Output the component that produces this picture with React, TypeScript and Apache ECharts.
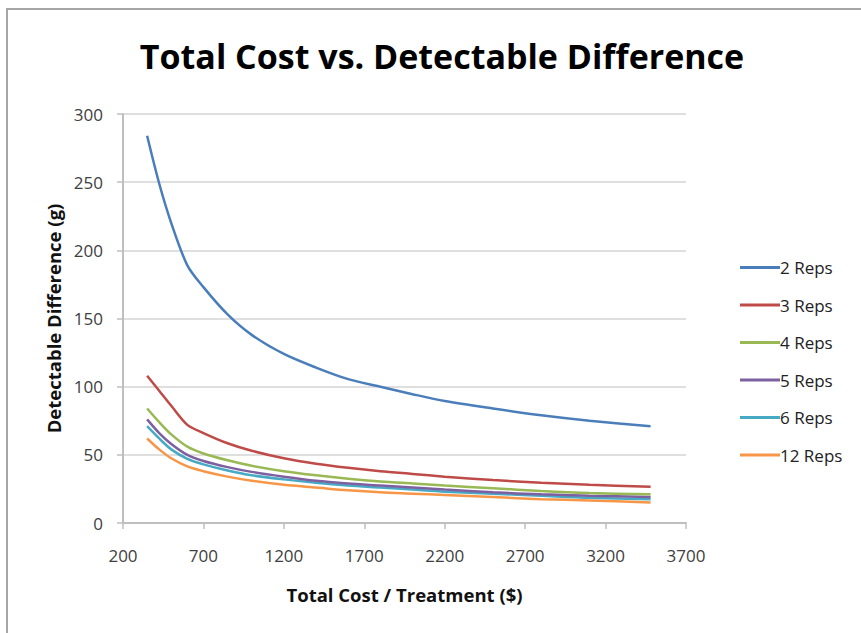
import React, { useEffect, useRef } from "react";
import * as echarts from "echarts";

const costs = [350, 425, 500, 600, 700, 850, 1000, 1200, 1400, 1600, 1800, 2000, 2200, 2500, 2800, 3100, 3480];
const reps2 = [284, 249, 220, 189, 173, 153, 138, 124, 114, 105.5, 100, 94.5, 89.5, 84, 79, 75, 71];
const reps3 = [108, 97, 86, 72, 66, 58.5, 53, 47.5, 43.5, 40.5, 38, 36, 34, 31.5, 29.5, 28, 26.5];
const reps4 = [84, 74, 65, 56, 51, 46, 42, 38, 35, 32.5, 30.5, 29, 27.5, 25.5, 23.5, 22, 21];
const reps5 = [76, 66, 58, 50, 45.5, 41, 37.5, 34, 31, 29, 27.5, 26, 24.5, 22.5, 21, 20, 19];
const reps6 = [71, 62, 54, 47, 43, 38.5, 35, 32, 29.5, 27.5, 26, 24.5, 23, 21.5, 20, 18.5, 17.5];
const reps12 = [62, 54, 47.5, 41.5, 38, 34, 31, 28, 26, 24, 22.5, 21.5, 20.5, 19, 17.5, 16.5, 15];

const seriesNames = ["2 Reps", "3 Reps", "4 Reps", "5 Reps", "6 Reps", "12 Reps"];
const seriesValues = [reps2, reps3, reps4, reps5, reps6, reps12];
const colors = ["#4A7EBB", "#BE4B48", "#98B954", "#7D60A0", "#46AAC5", "#F79646"];

export default function App() {
  const ref = useRef<HTMLDivElement>(null);
  useEffect(() => {
    if (!ref.current) return;
    const chart = echarts.init(ref.current, null, { renderer: "svg" });
    const font = "'Open Sans', 'Noto Sans', sans-serif";
    chart.setOption({
      animation: false,
      backgroundColor: "#ffffff",
      color: colors,
      title: {
        text: "Total Cost vs. Detectable Difference",
        left: 437,
        textAlign: "center",
        top: 34,
        textStyle: { fontFamily: font, fontWeight: "bold", fontSize: 34, color: "#000000" },
      },
      graphic: [
        {
          type: "polyline",
          shape: { points: [[7, 640], [7, 9], [870, 9]] },
          style: { stroke: "#A6A6A6", lineWidth: 2, fill: "none" },
          silent: true,
        },
      ],
      grid: { left: 123, right: 175, top: 114, bottom: 110, containLabel: false },
      legend: {
        orient: "vertical",
        left: 735,
        top: 254,
        itemWidth: 40,
        itemHeight: 3,
        itemGap: 20.5,
        icon: "rect",
        textStyle: { fontFamily: font, fontSize: 17, color: "#222222", padding: [0, 0, 0, -5] },
        data: seriesNames,
      },
      xAxis: {
        type: "value",
        min: 200,
        max: 3700,
        interval: 500,
        name: "Total Cost / Treatment ($)",
        nameLocation: "middle",
        nameGap: 62,
        nameTextStyle: { fontFamily: font, fontWeight: "bold", fontSize: 18.5, color: "#111111" },
        axisLine: { show: true, lineStyle: { color: "#BFBFBF", width: 2 } },
        axisTick: { show: true, length: 6, lineStyle: { color: "#BFBFBF", width: 1.5 } },
        axisLabel: {
          fontFamily: font,
          fontSize: 17,
          color: "#404040",
          margin: 24,
          formatter: (v: number) => String(v),
        },
        splitLine: { show: false },
      },
      yAxis: {
        type: "value",
        min: 0,
        max: 300,
        interval: 50,
        name: "Detectable Difference (g)",
        nameLocation: "middle",
        nameGap: 60,
        nameTextStyle: { fontFamily: font, fontWeight: "bold", fontSize: 18.5, color: "#111111" },
        axisLine: { show: true, lineStyle: { color: "#BFBFBF", width: 2 } },
        axisTick: { show: true, length: 6, lineStyle: { color: "#BFBFBF", width: 1.5 } },
        axisLabel: {
          fontFamily: font,
          fontSize: 17,
          color: "#404040",
          margin: 20,
          formatter: (v: number) => String(v),
        },
        splitLine: { show: true, lineStyle: { color: "#D4D4D4", width: 1.5 } },
      },
      series: seriesNames.map((name, i) => ({
        name,
        type: "line",
        data: costs.map((c, j) => [c, seriesValues[i][j]]),
        showSymbol: false,
        symbol: "none",
        smooth: 0.3,
        lineStyle: { width: 2.5, color: colors[i] },
        itemStyle: { color: colors[i] },
        z: 10 - i,
      })),
    });
    return () => chart.dispose();
  }, []);
  return <div ref={ref} style={{ position: "fixed", left: 0, top: 0, width: 861, height: 633 }} />;
}
